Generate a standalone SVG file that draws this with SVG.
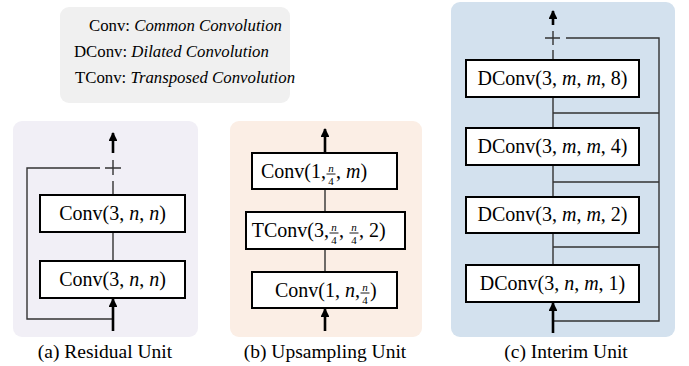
<svg xmlns="http://www.w3.org/2000/svg" width="689" height="366" viewBox="0 0 689 366">
<defs>
<marker id="ah" viewBox="0 0 10 10" refX="9" refY="5" markerWidth="3.4" markerHeight="3.4" orient="auto" markerUnits="strokeWidth">
<path d="M0,0 L10,5 L0,10 Z" fill="#000"/>
</marker>
<style>
.lg{font-family:"Liberation Serif","Times New Roman",serif;font-size:16.8px;fill:#000}
.cap{font-family:"Liberation Serif","Times New Roman",serif;font-size:19.5px;fill:#000;text-anchor:middle}
.bx{fill:#fff;stroke:#000;stroke-width:2}
.bt{font-family:"Liberation Serif","Times New Roman",serif;font-size:20px;fill:#000}
.fr{font-family:"Liberation Serif","Times New Roman",serif;font-size:11px;fill:#000;text-anchor:middle}
.fb{stroke:#000;stroke-width:0.9}
.ln{stroke:#333;stroke-width:1.4;fill:none}
.ar{stroke:#000;stroke-width:2.6;fill:none;marker-end:url(#ah)}
.mid{text-anchor:middle}
.end{text-anchor:end}
</style>
</defs>

<g id="legend">
<rect x="60" y="7" width="230" height="96" rx="9" fill="#f0f0f0"/>
<text class="lg" x="89" y="31">Conv: <tspan font-style="italic">Common Convolution</tspan></text>
<text class="lg" x="74" y="57">DConv: <tspan font-style="italic">Dilated  Convolution</tspan></text>
<text class="lg" x="75" y="83">TConv: <tspan font-style="italic">Transposed Convolution</tspan></text>
</g>

<g id="panel-a">
<rect x="13" y="121" width="185" height="216" rx="9" fill="#f1eff6"/>
<text class="cap" x="105" y="358">(a) Residual Unit</text>
</g>
<g id="panel-b">
<rect x="230" y="121" width="192" height="216" rx="9" fill="#fbeee5"/>
<text class="cap" x="325" y="358">(b) Upsampling Unit</text>
</g>
<g id="panel-c">
<rect x="451" y="2" width="224" height="335" rx="9" fill="#d3e1ee"/>
<text class="cap" x="566" y="358">(c) Interim Unit</text>
</g>

<g id="connectors">
<!-- (a) -->
<path class="ln" d="M113,319 H27 V168 H100"/>
<path class="ln" d="M105,168 H121 M113,160 V175"/>
<path class="ln" d="M113,195 V181"/>
<path class="ln" d="M113,232 V261"/>
<path class="ar" d="M113,153 V133"/>
<path class="ar" d="M113,331 V299"/>
<!-- (b) -->
<path class="ln" d="M325,189 V212 M325,249 V272"/>
<path class="ar" d="M325,153 V129"/>
<path class="ar" d="M325,331 V309"/>
<!-- (c) -->
<path class="ln" d="M553,321 H659 V38 H566"/>
<path class="ln" d="M545,38 H560 M553,31 V45"/>
<path class="ln" d="M553,60 V50"/>
<path class="ln" d="M553,97 V128 M553,113 H659"/>
<path class="ln" d="M553,165 V197 M553,182 H659"/>
<path class="ln" d="M553,233 V265 M553,247 H659"/>
<path class="ar" d="M553,25 V11"/>
<path class="ar" d="M553,333 V303"/>
</g>

<g id="a-conv2">
<rect class="bx" x="40" y="195" width="145" height="37"/>
<text class="bt mid" x="112.5" y="220">Conv(3, <tspan font-style="italic">n</tspan>, <tspan font-style="italic">n</tspan>)</text>
</g>
<g id="a-conv1">
<rect class="bx" x="40" y="261" width="145" height="37"/>
<text class="bt mid" x="112.5" y="286">Conv(3, <tspan font-style="italic">n</tspan>, <tspan font-style="italic">n</tspan>)</text>
</g>

<g id="b-conv-top">
<rect class="bx" x="252" y="153" width="145" height="36"/>
<text class="bt end" x="326" y="178">Conv(1,</text>
<text class="fr" x="331" y="172" font-style="italic">n</text>
<line class="fb" x1="326.5" y1="174" x2="335.5" y2="174"/>
<text class="fr" x="331" y="184.5">4</text>
<text class="bt" x="336" y="178">, <tspan font-style="italic">m</tspan>)</text>
</g>
<g id="b-tconv">
<rect class="bx" x="246" y="212" width="159" height="37"/>
<text class="bt end" x="329" y="237">TConv(3,</text>
<text class="fr" x="334" y="231" font-style="italic">n</text>
<line class="fb" x1="329.5" y1="233" x2="338.5" y2="233"/>
<text class="fr" x="334" y="243.5">4</text>
<text class="bt" x="339" y="237">,</text>
<text class="fr" x="354" y="231" font-style="italic">n</text>
<line class="fb" x1="349.5" y1="233" x2="358.5" y2="233"/>
<text class="fr" x="354" y="243.5">4</text>
<text class="bt" x="359" y="237">, 2)</text>
</g>
<g id="b-conv-bottom">
<rect class="bx" x="252" y="272" width="145" height="36"/>
<text class="bt end" x="360" y="297">Conv(1, <tspan font-style="italic">n</tspan>,</text>
<text class="fr" x="365" y="291" font-style="italic">n</text>
<line class="fb" x1="360.5" y1="293" x2="369.5" y2="293"/>
<text class="fr" x="365" y="303.5">4</text>
<text class="bt" x="370" y="297">)</text>
</g>

<g id="c-dconv8">
<rect class="bx" x="466" y="60" width="173" height="37"/>
<text class="bt mid" x="552.5" y="85">DConv(3, <tspan font-style="italic">m</tspan>, <tspan font-style="italic">m</tspan>, 8)</text>
</g>
<g id="c-dconv4">
<rect class="bx" x="466" y="128" width="173" height="37"/>
<text class="bt mid" x="552.5" y="153">DConv(3, <tspan font-style="italic">m</tspan>, <tspan font-style="italic">m</tspan>, 4)</text>
</g>
<g id="c-dconv2">
<rect class="bx" x="466" y="197" width="173" height="36"/>
<text class="bt mid" x="552.5" y="221">DConv(3, <tspan font-style="italic">m</tspan>, <tspan font-style="italic">m</tspan>, 2)</text>
</g>
<g id="c-dconv1">
<rect class="bx" x="466" y="265" width="173" height="37"/>
<text class="bt mid" x="552.5" y="290">DConv(3, <tspan font-style="italic">n</tspan>, <tspan font-style="italic">m</tspan>, 1)</text>
</g>
</svg>
